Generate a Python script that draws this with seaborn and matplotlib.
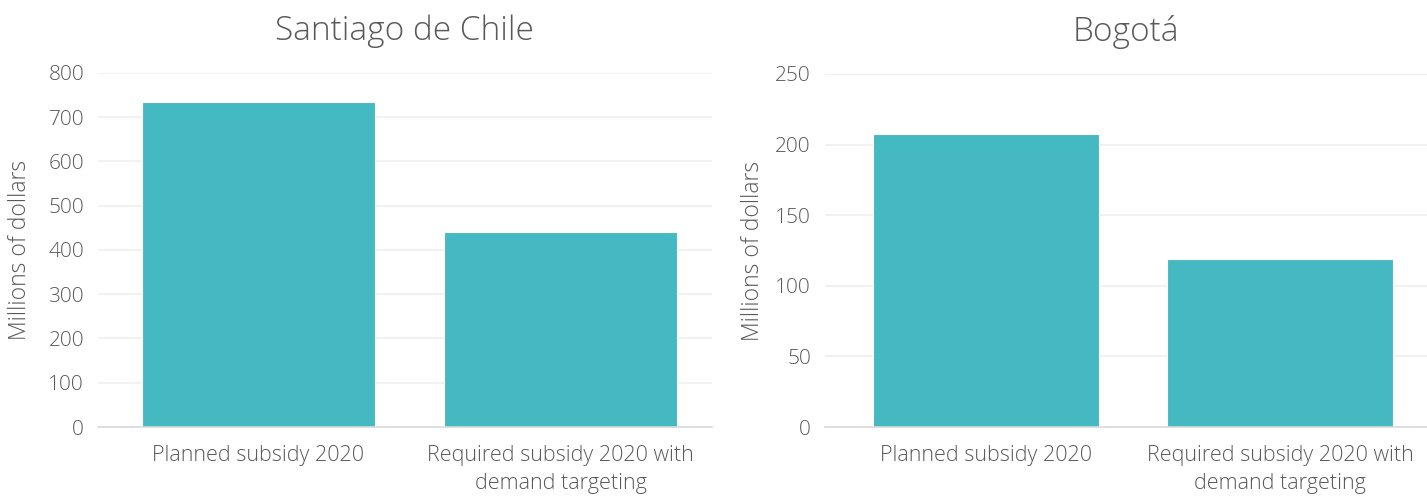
import pandas as pd
import seaborn as sns
import matplotlib.pyplot as plt

# data
categories = ['Planned subsidy 2020', 'Required subsidy 2020 with\ndemand targeting']
santiago_values = [735, 440]
bogota_values = [207.5, 119]
santiago_ticks = [0, 100, 200, 300, 400, 500, 600, 700, 800]
bogota_ticks = [0, 50, 100, 150, 200, 250]

sns.set_theme(style='white')
plt.rcParams['font.family'] = ['Open Sans', 'DejaVu Sans']
plt.rcParams['font.weight'] = 'light'

text_col = '#595959'
bar_col = '#45B9C2'

fig = plt.figure(figsize=(14.27, 4.97), dpi=100)
ax1 = fig.add_axes([0.0687, 0.1408, 0.430, 0.7125])
ax2 = fig.add_axes([0.578, 0.1408, 0.422, 0.7105])

panels = [
    (ax1, santiago_values, santiago_ticks, 'Santiago de Chile', (-0.53, 1.5)),
    (ax2, bogota_values, bogota_ticks, 'Bogotá', (-0.55, 1.5)),
]

for ax, vals, ticks, title, xl in panels:
    df = pd.DataFrame({'cat': categories, 'val': vals})
    sns.barplot(x='cat', y='val', data=df, ax=ax, color=bar_col,
                saturation=1, width=0.77, edgecolor='white', linewidth=0.8)
    ax.set_ylim(ticks[0], ticks[-1])
    ax.set_yticks(ticks)
    ax.set_xlim(*xl)
    ax.yaxis.grid(True, color='#efefef', linewidth=1.2)
    ax.set_axisbelow(True)
    for s in ['top', 'right', 'left']:
        ax.spines[s].set_visible(False)
    ax.spines['bottom'].set_color('#d9d9d9')
    ax.spines['bottom'].set_linewidth(1.2)
    ax.tick_params(axis='both', length=0, colors=text_col)
    ax.tick_params(axis='x', pad=13, labelsize=15.5)
    ax.tick_params(axis='y', pad=10, labelsize=15)
    for lbl in ax.get_xticklabels():
        lbl.set_linespacing(1.45)
    ax.set_xlabel('')
    ax.set_ylabel('Millions of dollars', fontsize=16.5, color=text_col,
                  fontweight='light')
    ax.set_title(title, fontsize=24, color=text_col, pad=24, fontweight='light')

ax1.yaxis.set_label_coords(-0.107, 0.5)
ax2.yaxis.set_label_coords(-0.10, 0.5)

fig.savefig('out.png', dpi=100)
